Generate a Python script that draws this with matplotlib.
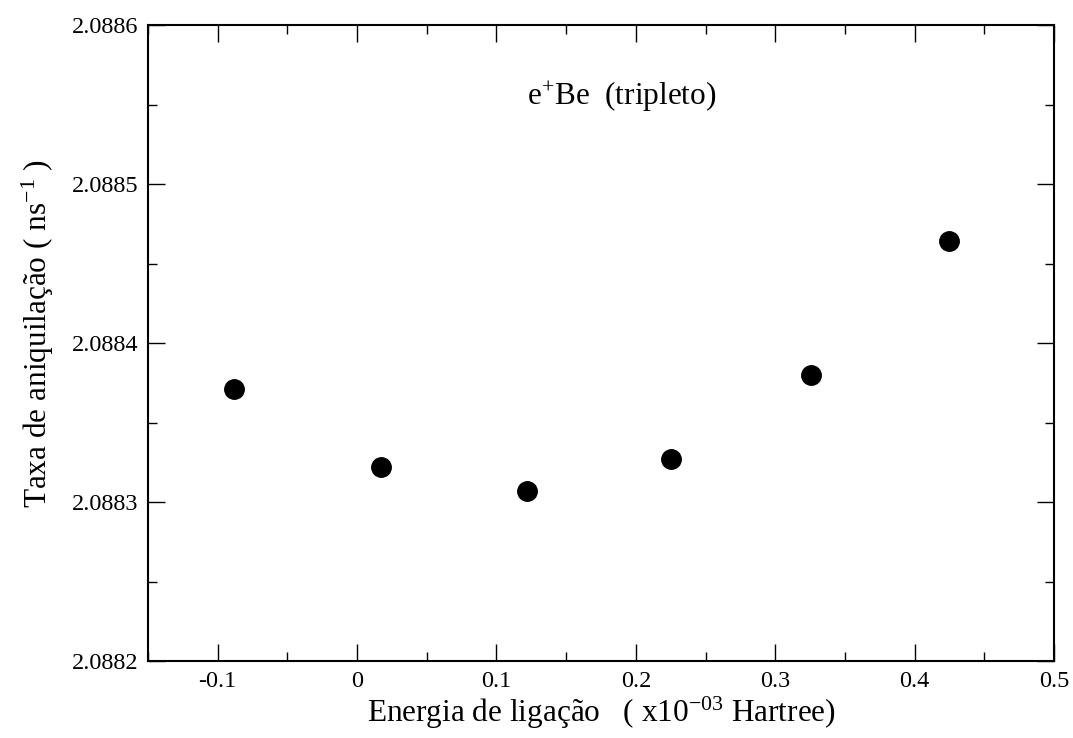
import matplotlib
matplotlib.use("Agg")
import matplotlib.pyplot as plt
from matplotlib.ticker import MultipleLocator, FuncFormatter

plt.rcParams["font.family"] = ["Liberation Serif", "DejaVu Serif"]
plt.rcParams["mathtext.fontset"] = "custom"
plt.rcParams["mathtext.rm"] = "Liberation Serif"
plt.rcParams["mathtext.it"] = "Liberation Serif:italic"

# energia de ligacao (x10^-3 Hartree) e taxa de aniquilacao (ns^-1)
energia = [-0.0885, 0.0172, 0.122, 0.225, 0.326, 0.425]
taxa = [2.088371, 2.088322, 2.088307, 2.088327, 2.088380, 2.088464]

fig = plt.figure(figsize=(10.73, 7.38), dpi=100)
ax = fig.add_axes([0.1379, 0.1043, 0.8444, 0.8618])

ax.plot(energia, taxa, "o", color="black", markersize=14, linestyle="none")

ax.set_xlim(-0.15, 0.5)
ax.set_ylim(2.0882, 2.0886)
ax.xaxis.set_major_locator(MultipleLocator(0.1))
ax.xaxis.set_minor_locator(MultipleLocator(0.05))
ax.yaxis.set_major_locator(MultipleLocator(0.0001))
ax.yaxis.set_minor_locator(MultipleLocator(0.00005))
ax.xaxis.set_major_formatter(FuncFormatter(lambda v, p: "%g" % round(v, 3)))
ax.yaxis.set_major_formatter(FuncFormatter(lambda v, p: "%.4f" % v))

ax.tick_params(which="both", direction="in", top=True, right=True,
               labelsize=17.5, width=1.0, pad=7)
ax.tick_params(which="major", length=12.5)
ax.tick_params(which="minor", length=6.5)
for s in ax.spines.values():
    s.set_linewidth(1.5)

ax.set_xlabel("Energia de ligação   ( x10$^{\\mathrm{-03}}$ Hartree)", fontsize=22.5)
ax.xaxis.set_label_coords(0.5, -0.053)
ax.set_ylabel("Taxa de aniquilação ( ns$^{\\mathrm{-1}}$ )", fontsize=22.5)
ax.yaxis.set_label_coords(-0.101, 0.515)

ax.text(0.418, 0.874, "e$^{+}$Be  (tripleto)", transform=ax.transAxes,
        fontsize=22.5, ha="left", va="baseline")

fig.savefig("out.png", dpi=100)
